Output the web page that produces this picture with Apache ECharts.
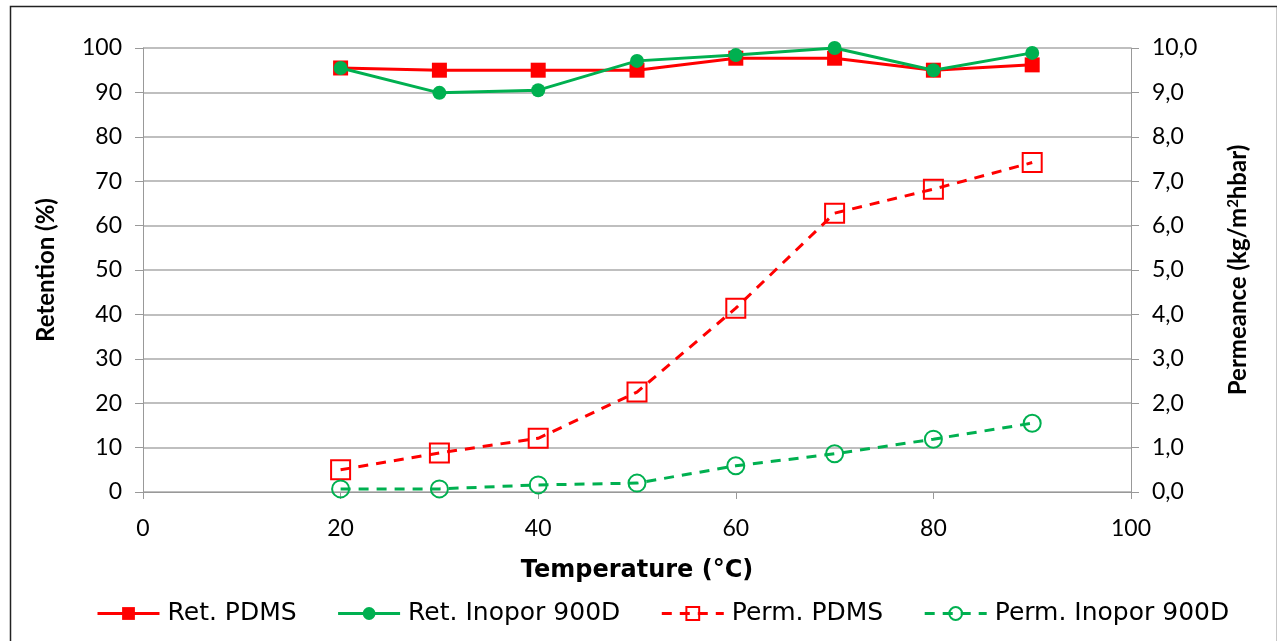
<!DOCTYPE html>
<html>
<head>
<meta charset="utf-8">
<script src="https://cdn.jsdelivr.net/npm/echarts@6/dist/echarts.min.js"></script>
<style>
html,body{margin:0;padding:0;background:#fff;}
#c{width:1277px;height:641px;}
</style>
</head>
<body>
<div id="c"></div>
<script>
const temperatures = [20, 30, 40, 50, 60, 70, 80, 90];
const retPDMS = [95.5, 95.0, 95.0, 95.0, 97.7, 97.7, 95.0, 96.2];
const retInopor = [95.5, 89.9, 90.5, 97.1, 98.4, 100.0, 95.0, 98.9];
const permPDMS = [0.50, 0.88, 1.21, 2.25, 4.14, 6.28, 6.82, 7.42];
const permInopor = [0.07, 0.07, 0.16, 0.20, 0.59, 0.86, 1.19, 1.55];
const seriesNames = ['Ret. PDMS', 'Ret. Inopor 900D', 'Perm. PDMS', 'Perm. Inopor 900D'];

const RED = '#FF0000', GREEN = '#00B050';
const FONT = 'Lato';
const WIDE = 'DejaVu Sans';
const CLEAR = 'rgba(255,255,255,0)';
const pair = (xs, ys) => xs.map((x, i) => [x, ys[i]]);

const chart = echarts.init(document.getElementById('c'));
chart.setOption({
  animation: false,
  textStyle: { fontFamily: FONT },
  graphic: [{
    type: 'rect', left: 8, top: 4,
    shape: { width: 1267, height: 640 },
    style: { fill: 'none', stroke: '#222', lineWidth: 1.5 }
  }],
  grid: { left: 143, right: 146, top: 48, bottom: 149 },
  legend: {
    bottom: 10, left: 91,
    itemWidth: 62, itemHeight: 16, itemGap: 40,
    lineStyle: { width: 3 },
    textStyle: { fontFamily: WIDE, fontSize: 25, color: '#000', padding: [0, 0, 0, 3] },
    data: seriesNames
  },
  xAxis: {
    type: 'value', min: 0, max: 100, interval: 20,
    name: 'Temperature (°C)', nameLocation: 'middle', nameGap: 67,
    nameTextStyle: { fontFamily: WIDE, fontSize: 24, fontWeight: 'bold', color: '#000' },
    axisLine: { show: true, lineStyle: { color: '#999', width: 1 } },
    axisTick: { show: true, length: 7, lineStyle: { color: '#999' } },
    axisLabel: { fontFamily: FONT, fontSize: 23, color: '#000', margin: 25 },
    splitLine: { show: false }
  },
  yAxis: [{
    type: 'value', min: 0, max: 100, interval: 10,
    name: 'Retention (%)', nameLocation: 'middle', nameGap: 85, nameRotate: 90,
    nameTextStyle: { fontFamily: FONT, fontSize: 24, fontWeight: 'bold', color: '#000' },
    axisLine: { show: true, lineStyle: { color: '#999', width: 1 } },
    axisTick: { show: true, length: 8, lineStyle: { color: '#999' } },
    axisLabel: { fontFamily: FONT, fontSize: 23, color: '#000', margin: 21 },
    splitLine: { show: true, lineStyle: { color: '#aaa', width: 1.5 } }
  }, {
    type: 'value', min: 0, max: 10, interval: 1,
    name: 'Permeance (kg/m{sup|2}hbar)', nameLocation: 'middle', nameGap: 95, nameRotate: 90,
    nameTextStyle: {
      fontFamily: FONT, fontSize: 24, fontWeight: 'bold', color: '#000',
      rich: { sup: { fontFamily: FONT, fontSize: 15, fontWeight: 'bold', color: '#000', verticalAlign: 'top', padding: [0, 0, 10, 0] } }
    },
    axisLine: { show: true, lineStyle: { color: '#999', width: 1 } },
    axisTick: { show: true, length: 8, lineStyle: { color: '#999' } },
    axisLabel: { fontFamily: FONT, fontSize: 23, color: '#000', margin: 21, formatter: v => v.toFixed(1).replace('.', ',') },
    splitLine: { show: false }
  }],
  series: [{
    name: seriesNames[0], type: 'line', yAxisIndex: 0,
    data: pair(temperatures, retPDMS),
    symbol: 'rect', symbolSize: 15,
    lineStyle: { color: RED, width: 3 },
    itemStyle: { color: RED },
    z: 3
  }, {
    name: seriesNames[1], type: 'line', yAxisIndex: 0,
    data: pair(temperatures, retInopor),
    symbol: 'circle', symbolSize: 14,
    lineStyle: { color: GREEN, width: 3 },
    itemStyle: { color: GREEN },
    z: 4
  }, {
    name: seriesNames[2], type: 'line', yAxisIndex: 1,
    data: pair(temperatures, permPDMS),
    symbol: 'rect', symbolSize: 19,
    lineStyle: { color: RED, width: 3, type: [10, 8] },
    itemStyle: { color: CLEAR, borderColor: RED, borderWidth: 2 },
    z: 3
  }, {
    name: seriesNames[3], type: 'line', yAxisIndex: 1,
    data: pair(temperatures, permInopor),
    symbol: 'circle', symbolSize: 17,
    lineStyle: { color: GREEN, width: 3, type: [10, 8] },
    itemStyle: { color: CLEAR, borderColor: GREEN, borderWidth: 2 },
    z: 3
  }]
});
</script>
</body>
</html>
